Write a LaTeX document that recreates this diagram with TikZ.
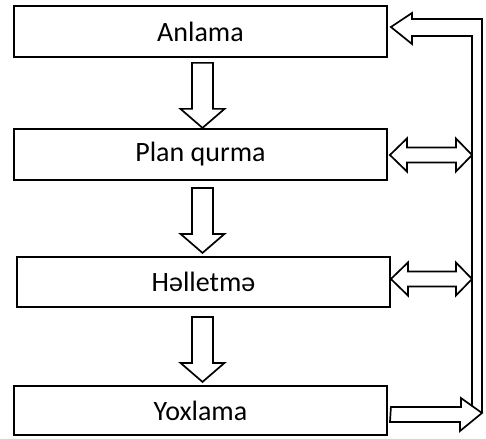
\documentclass[tikz,border=0pt]{standalone}
\usepackage{fontspec}
\setmainfont{Carlito}
\usetikzlibrary{calc}

\tikzset{
  stage/.style={draw, line width=1.8pt, rectangle, minimum width=373pt,
    inner sep=0pt, font=\fontsize{28}{33}\selectfont, text=black},
  blk/.style={draw, line width=1.7pt, fill=white, line join=miter},
}

% hollow block arrow pointing down, starting at the top middle of its shaft
\newcommand\downblock[1]{%
  \draw[blk] #1 ++(-10.5,0) -- ++(0,46) -- ++(-11.5,0) -- ++(22,19)
    -- ++(22,-19) -- ++(-11.5,0) -- ++(0,-46) -- cycle;}

% hollow two-headed block arrow between a left tip and a right tip
\newcommand\twoway[2]{%
  \draw[blk] (#1) -- ++(17,-16.5) -- ++(0,9) -- ($(#2)+(-16,-7.5)$)
    -- ++(0,-9) -- (#2) -- ++(-16,16.5) -- ++(0,-9) -- ($(#1)+(17,7.5)$)
    -- ++(0,9) -- cycle;}

\begin{document}
\begin{tikzpicture}[x=1pt,y=-1pt]
  \useasboundingbox (0,0) rectangle (486,438);

  % the four stages
  \node[stage, minimum height=51pt] (anl) at (200.5,31.5) {Anlama};
  \node[stage, minimum height=51pt] (plan) at (200.5,154.5) {Plan qurma};
  \node[stage, minimum height=50pt] (hel) at (203.5,282) {Həlletmə};
  \node[stage, minimum height=49pt] (yox) at (200.5,410.5) {Yoxlama};

  % downward flow between the stages
  \downblock{($(anl.south)+(2,5)$)}
  \downblock{($(plan.south)+(2,7)$)}
  \downblock{($(hel.south)+(-1,9)$)}

  % return channel along the right side
  \coordinate (outer) at (482,0);
  \coordinate (inner) at (472,0);
  \coordinate (ytip) at (482,413);

  % feed from the last stage into the channel
  \draw[blk] ($(yox.east)+(3,-3.5)$) -- ++(70,0) -- ++(0,-9) -- (ytip)
    -- ++(-22,18) -- ++(0,-9) -- ++(-70,0) -- cycle;

  % channel rising and turning back into the first stage
  \coordinate (atip) at ($(anl.east)+(3,-4.5)$);
  \draw[line width=1.7pt, line join=miter]
    (inner |- 0,406) -- (inner |- 0,36) -- (412,36) -- (412,44) -- (atip)
    -- (412,13) -- (412,19) -- (outer |- 0,19) -- (ytip);

  % two-way links between the channel and the middle stages
  \coordinate (p1) at ($(plan.east)+(2,0.5)$);
  \coordinate (p2) at (inner |- p1);
  \twoway{p1}{p2}
  \coordinate (h1) at ($(hel.east)+(0,-3)$);
  \coordinate (h2) at (inner |- h1);
  \twoway{h1}{h2}
\end{tikzpicture}
\end{document}
